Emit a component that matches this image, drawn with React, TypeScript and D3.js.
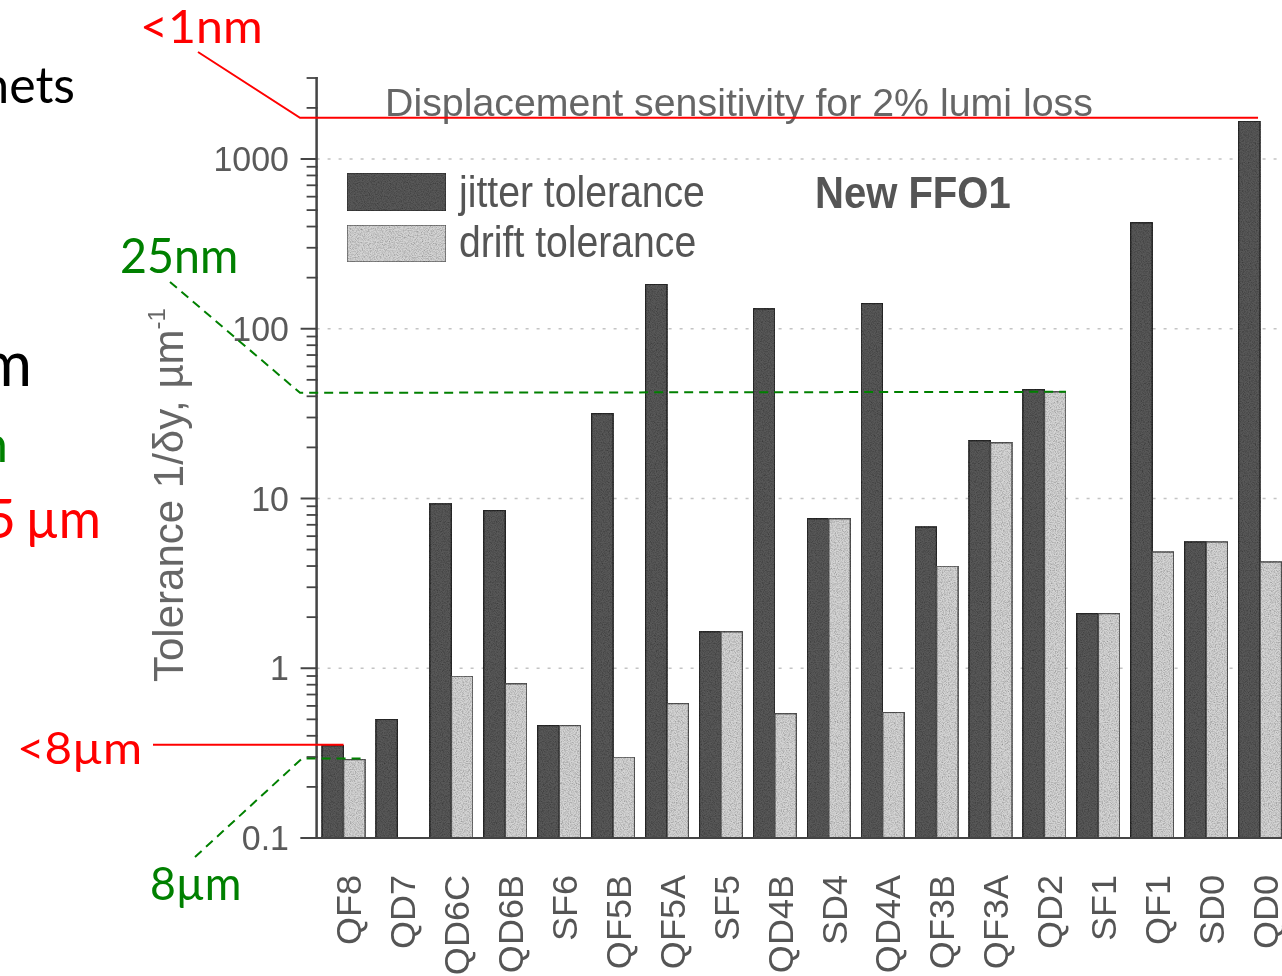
import React from 'react';
import * as d3 from 'd3';

// Magnet names along the final-focus line
const categories = [
  'QF8', 'QD7', 'QD6C', 'QD6B', 'SF6', 'QF5B', 'QF5A', 'SF5', 'QD4B',
  'SD4', 'QD4A', 'QF3B', 'QF3A', 'QD2', 'SF1', 'QF1', 'SD0', 'QD0',
];
// Tolerance 1/δy in µm^-1 (log scale)
const jitterTolerance = [
  0.35, 0.5, 9.3, 8.5, 0.46, 31.6, 183, 1.64, 131,
  7.6, 141, 6.8, 21.9, 43.8, 2.1, 421, 5.55, 1670,
];
const driftTolerance: (number | null)[] = [
  0.29, null, 0.9, 0.81, 0.46, 0.3, 0.62, 1.64, 0.54,
  7.6, 0.55, 4.0, 21.3, 42.5, 2.1, 4.84, 5.55, 4.23,
];
const majorTicks = [0.1, 1, 10, 100, 1000];
const majorTickLabels = ['0.1', '1', '10', '100', '1000'];
const seriesNames = ['jitter tolerance', 'drift tolerance'];
const chartTitle = 'Displacement sensitivity for 2% lumi loss';
const latticeName = 'New FFO1';

// Marker levels for the overlay lines
const topMarkerValue = 1750; // <1nm
const midMarkerValue = driftTolerance[13] as number; // 25nm
const lowJitterValue = jitterTolerance[0]; // <8µm
const lowDriftValue = driftTolerance[0] as number; // 8µm

const W = 1282;
const H = 976;
const AXIS_X = 316.6;
const BASE_Y = 838;
const TOP_Y = 78;

const CHART_FONT = '"Liberation Sans", Arial, Helvetica, sans-serif';
const NOTE_FONT = 'Lato, "Open Sans", sans-serif';
const INK = '#555';
const AXIS_INK = '#444';
const JITTER_FILL = '#595959';
const DRIFT_FILL = '#d4d4d4';
const RED = '#ff0000';
const GREEN = '#008000';

type TxtProps = {
  x: number;
  y: number;
  size: number;
  sx?: number;
  rot?: number;
  anchor?: 'start' | 'middle' | 'end';
  fill?: string;
  weight?: number | string;
  font?: string;
  baseline?: string;
  children: React.ReactNode;
};

function Txt({ x, y, size, sx = 1, rot = 0, anchor = 'start', fill = INK, weight = 400, font = CHART_FONT, baseline, children }: TxtProps) {
  return (
    <text
      transform={`translate(${x},${y}) rotate(${rot}) scale(${sx},1)`}
      fontSize={size}
      fontFamily={font}
      fontWeight={weight}
      fill={fill}
      textAnchor={anchor}
      dominantBaseline={baseline}
    >
      {children}
    </text>
  );
}

export default function App() {
  const y = d3.scaleLog().domain([0.1, 3000]).range([BASE_Y, TOP_Y]);
  const x = d3
    .scaleBand<string>()
    .domain(categories)
    .range([AXIS_X, 1287])
    .paddingInner(0.2)
    .paddingOuter(0.1);
  const bw = x.bandwidth() / 2;

  const minorTicks: number[] = [];
  [0.1, 1, 10, 100, 1000].forEach((d) => {
    for (let k = 2; k <= 9; k++) {
      const v = d * k;
      if (v <= 3000) minorTicks.push(v);
    }
  });

  const qf8x = x('QF8') as number;
  const qd2x = x('QD2') as number;
  const qd0x = x('QD0') as number;

  const yTop = y(topMarkerValue);
  const yMid = y(midMarkerValue);
  const yLowJ = y(lowJitterValue) - 1;
  const yLowD = y(lowDriftValue) - 1;

  return (
    <div style={{ position: 'absolute', left: 0, top: 0, width: W, height: H, background: '#fff' }}>
      <svg width={W} height={H} viewBox={`0 0 ${W} ${H}`} style={{ display: 'block' }}>
        <defs>
          <filter id="grain" x="0" y="0" width="100%" height="100%" filterUnits="objectBoundingBox">
            <feTurbulence type="fractalNoise" baseFrequency="0.85" numOctaves="2" seed="7" result="noise" />
            <feColorMatrix
              in="noise"
              type="matrix"
              values="0 0 0 0 0  0 0 0 0 0  0 0 0 0 0  1.1 0 0 0 -0.42"
              result="dots"
            />
            <feComposite in="dots" in2="SourceGraphic" operator="in" result="clipped" />
            <feMerge>
              <feMergeNode in="SourceGraphic" />
              <feMergeNode in="clipped" />
            </feMerge>
          </filter>
          <filter id="soft" x="-5%" y="-5%" width="110%" height="110%">
            <feGaussianBlur stdDeviation="0.55" />
          </filter>
        </defs>
        <rect width={W} height={H} fill="#fff" />

        <g filter="url(#soft)">
          {/* gridlines */}
          {majorTicks.slice(1).map((t) => (
            <line
              key={`g${t}`}
              x1={AXIS_X}
              x2={W}
              y1={y(t)}
              y2={y(t)}
              stroke="#c4c4c4"
              strokeWidth={1.3}
              strokeDasharray="3 8"
            />
          ))}

          {/* bars */}
          {categories.map((c, i) => {
            const x0 = x(c) as number;
            const dj = jitterTolerance[i];
            const dd = driftTolerance[i];
            return (
              <g key={c}>
                <rect
                  x={x0}
                  y={y(dj)}
                  width={bw}
                  height={BASE_Y - y(dj)}
                  fill={JITTER_FILL}
                  stroke="#2a2a2a"
                  strokeWidth={1.5}
                  filter="url(#grain)"
                />
                {dd !== null && (
                  <rect
                    x={x0 + bw}
                    y={y(dd)}
                    width={bw}
                    height={BASE_Y - y(dd)}
                    fill={DRIFT_FILL}
                    stroke="#555"
                    strokeWidth={1.5}
                    filter="url(#grain)"
                  />
                )}
              </g>
            );
          })}

          {/* y axis */}
          <line x1={AXIS_X} x2={AXIS_X} y1={y(3000) - 1} y2={BASE_Y} stroke={AXIS_INK} strokeWidth={2.5} />
          {majorTicks.map((t) => (
            <line key={`M${t}`} x1={AXIS_X - 16} x2={AXIS_X} y1={y(t)} y2={y(t)} stroke={AXIS_INK} strokeWidth={2} />
          ))}
          {minorTicks.map((t) => (
            <line key={`m${t}`} x1={AXIS_X - 10} x2={AXIS_X + 1} y1={y(t)} y2={y(t)} stroke={AXIS_INK} strokeWidth={1.8} />
          ))}
          {majorTicks.map((t, i) => (
            <Txt key={`l${t}`} x={289} y={y(t)} size={35} sx={0.97} anchor="end" baseline="central" fill="#5a5a5a">
              {majorTickLabels[i]}
            </Txt>
          ))}

          {/* x axis */}
          <line x1={AXIS_X - 16} x2={W} y1={BASE_Y} y2={BASE_Y} stroke={AXIS_INK} strokeWidth={2.2} />
          {categories.map((c) => (
            <Txt
              key={`c${c}`}
              x={(x(c) as number) + x.bandwidth() / 2 + 6}
              y={875}
              size={35}
              sx={1.03}
              rot={-90}
              anchor="end"
              baseline="central"
            >
              {c}
            </Txt>
          ))}

          {/* y axis title */}
          <text
            transform={`translate(183,682) rotate(-90)`}
            fontSize={42}
            fontFamily={CHART_FONT}
            fill="#666"
          >
            Tolerance 1/δy, µm
            <tspan fontSize={24} dy={-18}>
              -1
            </tspan>
          </text>

          {/* chart title */}
          <Txt x={385} y={116} size={38} sx={1.035} fill="#666">
            {chartTitle}
          </Txt>
          <Txt x={815} y={208} size={44} sx={0.91} weight={700} fill="#555">
            {latticeName}
          </Txt>

          {/* legend */}
          <rect x={347} y={173} width={99} height={38} fill={JITTER_FILL} stroke="#333" strokeWidth={1.5} filter="url(#grain)" />
          <rect x={347} y={225} width={99} height={37} fill={DRIFT_FILL} stroke="#666" strokeWidth={1.5} filter="url(#grain)" />
          <Txt x={459} y={207} size={44} sx={0.89}>
            {seriesNames[0]}
          </Txt>
          <Txt x={459} y={257} size={44} sx={0.89}>
            {seriesNames[1]}
          </Txt>
        </g>

        {/* overlay markers */}
        <polyline
          points={`198,52 300,${yTop} ${qd0x + bw - 2},${yTop}`}
          fill="none"
          stroke={RED}
          strokeWidth={2}
        />
        <polyline
          points={`170,282 300,${yMid + 1} ${qd2x + 2 * bw},${yMid}`}
          fill="none"
          stroke={GREEN}
          strokeWidth={2}
          strokeDasharray="9 6"
        />
        <line x1={153} x2={qf8x + bw} y1={yLowJ} y2={yLowJ} stroke={RED} strokeWidth={2} />
        <polyline
          points={`195,857 302,${yLowD} ${qf8x + 2 * bw},${yLowD}`}
          fill="none"
          stroke={GREEN}
          strokeWidth={2}
          strokeDasharray="9 6"
        />

        {/* overlay notes */}
        <Txt x={140} y={43} size={46} sx={1.05} font={NOTE_FONT} fill={RED}>
          {'<1nm'}
        </Txt>
        <Txt x={120} y={273} size={48} sx={0.97} font={NOTE_FONT} fill={GREEN}>
          25nm
        </Txt>
        <Txt x={17} y={764} size={44} sx={1.08} font={NOTE_FONT} fill={RED}>
          {'<8µm'}
        </Txt>
        <Txt x={150} y={900} size={46} sx={0.97} font={NOTE_FONT} fill={GREEN}>
          8µm
        </Txt>

        {/* slide text fragments at the left edge */}
        <Txt x={75} y={103} size={50} anchor="end" font={NOTE_FONT} fill="#000">
          nets
        </Txt>
        <Txt x={32} y={386} size={62} anchor="end" font={NOTE_FONT} fill="#000">
          m
        </Txt>
        <Txt x={8} y={462} size={50} anchor="end" font={NOTE_FONT} fill={GREEN}>
          n
        </Txt>
        <Txt x={16} y={538} size={54} anchor="end" font={NOTE_FONT} fill={RED}>
          5
        </Txt>
        <Txt x={101} y={538} size={54} sx={0.95} anchor="end" font={NOTE_FONT} fill={RED}>
          µm
        </Txt>
      </svg>
    </div>
  );
}
